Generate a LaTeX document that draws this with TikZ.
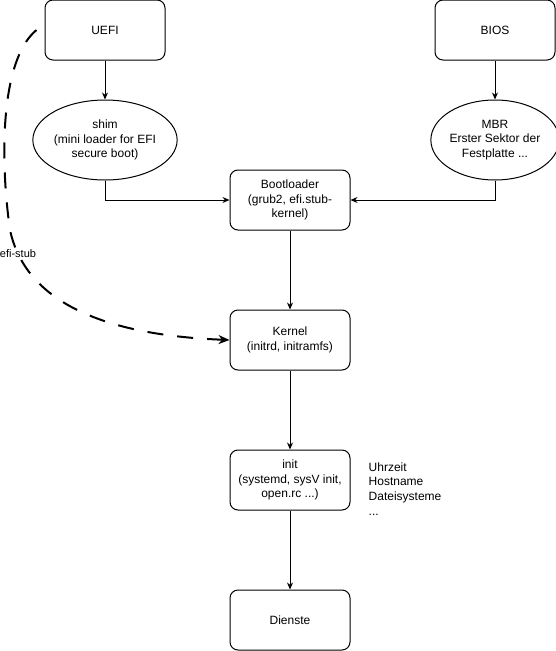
\documentclass[tikz,border=0pt]{standalone}
\usepackage{fontspec}
\setmainfont{Liberation Sans}
\usetikzlibrary{arrows.meta,positioning,shapes.geometric}

\begin{document}
\begin{tikzpicture}[
  x=1pt, y=-1pt,
  font=\fontsize{12}{14.8}\selectfont,
  stage/.style={draw, line width=1pt, rounded corners=8pt, align=center, minimum width=120pt, minimum height=60pt, inner sep=2pt, fill=white},
  loader/.style={draw, line width=1pt, ellipse, align=center, minimum width=120pt, minimum height=80pt, inner sep=0pt, fill=white},
  note/.style={align=left, inner sep=0pt},
  tag/.style={fill=white, inner sep=1pt, font=\fontsize{11}{12}\selectfont},
  arrow/.style={-{Stealth[length=7pt,width=6pt]}, line width=1pt},
  stub/.style={-{Stealth[length=11pt,width=9pt]}, line width=2pt, dash pattern=on 16pt off 14pt}
]
\useasboundingbox (0,0) rectangle (556,651);

\node[stage] (uefi) at (105,30) {UEFI};
\node[stage] (bios) at (495,30) {BIOS};
\node[loader] (shim) at (105,140) {shim\\(mini loader for EFI\\secure boot)};
\node[loader] (mbr) at (495,140) {MBR\\Erster Sektor der\\Festplatte ...};
\node[stage] (boot) at (290,200) {Bootloader\\(grub2, efi.stub-\\kernel)};
\node[stage] (kernel) at (290,340) {Kernel\\(initrd, initramfs)};
\node[stage] (init) at (290,480) {init\\(systemd, sysV init,\\open.rc ...)};
\node[stage] (dienste) at (290,620) {Dienste};

\node[note, anchor=west] (tasks) at ([xshift=18pt, yshift=-9pt]init.east)
  {Uhrzeit\\Hostname\\Dateisysteme\\...};

\draw[arrow] (uefi) -- (shim);
\draw[arrow] (bios) -- (mbr);
\draw[arrow] (shim.south) |- (boot.west);
\draw[arrow] (mbr.south) |- (boot.east);
\draw[arrow] (boot) -- (kernel);
\draw[arrow] (kernel) -- (init);
\draw[arrow] (init) -- (dienste);

% direct path without bootloader
\draw[stub] ([xshift=-8pt]uefi.west) .. controls (0,60) and (0,160) .. (10,230)
  .. controls (25,300) and (100,335) .. (kernel.west)
  node[tag, pos=0.12] {efi-stub};

\end{tikzpicture}
\end{document}
